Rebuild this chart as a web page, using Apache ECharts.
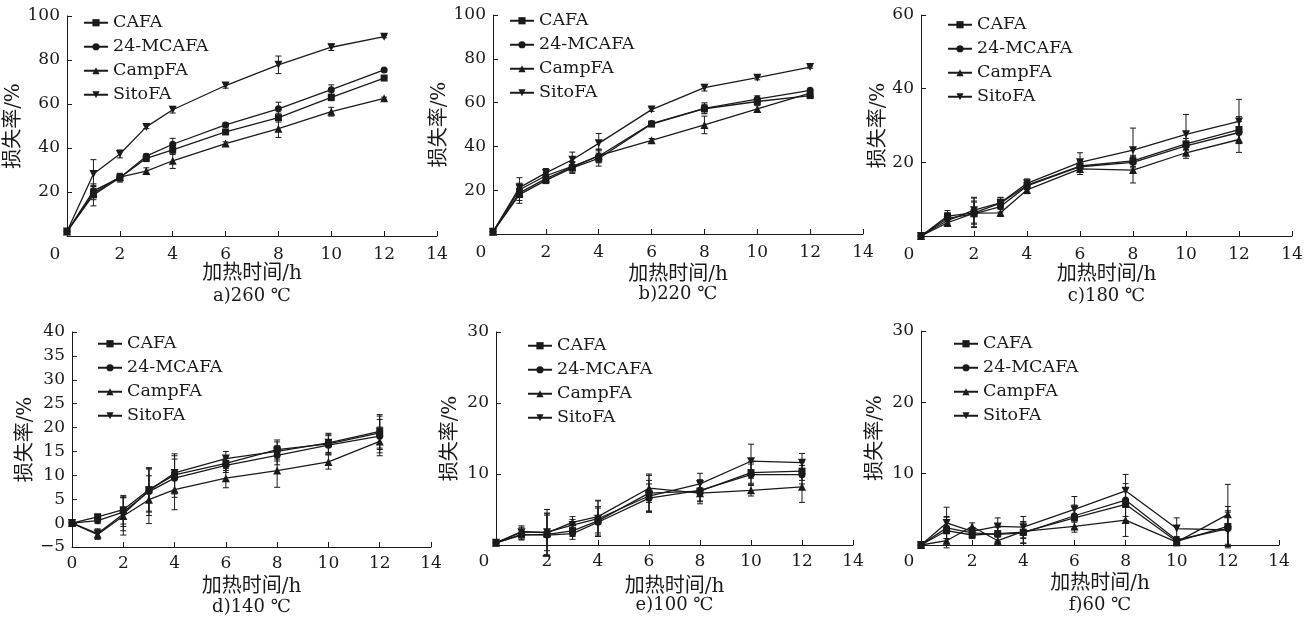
<!DOCTYPE html>
<html>
<head>
<meta charset="utf-8">
<title>损失率</title>
<script src="https://cdn.jsdelivr.net/npm/echarts@6/dist/echarts.min.js"></script>
<style>
  html, body { margin: 0; padding: 0; background: #fff; }
  #chart { width: 1306px; height: 625px; }
</style>
</head>
<body>
<div id="chart"></div>
<script>
// 加热时间 (h)
const hours = [0, 1, 2, 3, 4, 6, 8, 10, 12]
const seriesNames = ['CAFA', '24-MCAFA', 'CampFA', 'SitoFA']
const panelTitles = ['a)260 ℃', 'b)220 ℃', 'c)180 ℃', 'd)140 ℃', 'e)100 ℃', 'f)60 ℃']

// 纵轴范围
const yMin = [0, 0, 0, -5, 0, 0]
const yMax = [100, 100, 60, 40, 30, 30]
const yStep = [20, 20, 20, 5, 10, 10]

// 损失率 (%)，每行依次为 CAFA / 24-MCAFA / CampFA / SitoFA
const loss260 = [
  [2, 18.7, 26.5, 35.3, 39.1, 47.3, 53.8, 63.0, 71.8],
  [2, 20.5, 26.5, 36.3, 41.7, 50.5, 57.8, 66.5, 75.5],
  [2, 19.5, 26.8, 29.5, 34.2, 42.0, 48.8, 56.5, 62.6],
  [2, 28.2, 37.3, 49.6, 57.4, 68.4, 77.8, 85.8, 90.6]
]
const err260 = [
  [0.5, 5, 1.5, 1.5, 2, 1, 2, 1.5, 0.5],
  [0.5, 2.5, 2, 1, 2.7, 1, 3, 2.2, 0.5],
  [0.5, 3, 1.5, 1.5, 3.5, 0.8, 4, 2, 0.5],
  [0.5, 6.5, 1.8, 0.8, 1.5, 1.2, 4, 1.5, 0.5]
]
const loss220 = [
  [1, 18.0, 24.5, 30.2, 34.5, 50.2, 57.2, 60.5, 63.2],
  [1, 20.2, 26.6, 30.9, 35.5, 50.4, 57.4, 61.6, 65.6],
  [1, 18.8, 25.3, 30.5, 35.8, 42.8, 49.8, 57.1, 64.3],
  [1, 21.2, 27.9, 33.9, 41.4, 56.8, 66.8, 71.4, 76.2]
]
const err220 = [
  [0.3, 4, 1.5, 2.5, 3.5, 0.8, 2, 1.5, 0.5],
  [0.3, 3, 1.5, 2, 3, 0.8, 2.5, 1.5, 0.5],
  [0.3, 3.5, 1.5, 2.5, 3, 0.8, 4, 1.5, 0.5],
  [0.3, 4.5, 2, 3.5, 4.5, 0.8, 1.5, 1, 0.5]
]
const loss180 = [
  [0, 5.4, 6.3, 8.9, 13.8, 19.0, 20.4, 25.0, 28.9],
  [0, 4.8, 6.0, 8.0, 13.6, 18.8, 20.0, 24.5, 28.1],
  [0, 3.6, 6.2, 6.3, 12.5, 18.2, 17.9, 22.6, 26.2],
  [0, 4.2, 7.0, 9.0, 14.3, 20.0, 23.3, 27.6, 31.1]
]
const err180 = [
  [0.2, 1.5, 4, 1.5, 1.2, 1.5, 1.5, 1.5, 3.5],
  [0.2, 1.5, 3.5, 1.5, 1, 1.5, 1.5, 1.2, 3],
  [0.2, 1, 3, 1, 1, 1.5, 3.5, 1.5, 3.5],
  [0.2, 1.5, 3.5, 1.5, 1.2, 2.6, 6, 5.4, 6]
]
const loss140 = [
  [0, 1.3, 2.8, 7.0, 10.1, 12.5, 15.4, 16.6, 18.9],
  [0, 0.5, 2.3, 6.6, 9.4, 12.1, 14.2, 16.3, 18.2],
  [0, -2.4, 1.5, 4.9, 7.0, 9.4, 11.0, 12.8, 17.1],
  [0, -2.2, 1.9, 6.8, 10.5, 13.5, 15.0, 16.8, 19.2]
]
const err140 = [
  [0.3, 0.6, 3, 4.5, 4, 1.5, 2, 2, 3.5],
  [0.3, 0.6, 3, 5, 4, 1.5, 2, 2, 3.5],
  [0.3, 1, 4, 5, 4.2, 2, 3.5, 1.5, 3],
  [0.3, 1, 3.5, 4.5, 4, 1.5, 2, 2, 3.5]
]
const loss100 = [
  [0.3, 1.4, 1.5, 2.0, 3.4, 7.3, 7.6, 10.2, 10.4],
  [0.3, 1.5, 1.4, 1.6, 3.2, 6.6, 7.7, 9.9, 9.9],
  [0.3, 1.9, 1.7, 3.2, 4.0, 8.0, 7.3, 7.7, 8.2],
  [0.3, 1.8, 1.8, 2.8, 3.7, 6.9, 8.6, 11.8, 11.6]
]
const err100 = [
  [0.2, 0.7, 3, 0.8, 2, 2.5, 1.5, 1.5, 1.3],
  [0.2, 0.7, 3, 0.8, 2, 2, 1.5, 1.5, 1.3],
  [0.2, 0.8, 2.5, 0.8, 2.3, 2, 1.5, 0.8, 2.2],
  [0.2, 0.7, 3.2, 0.8, 2.5, 2.2, 1.5, 2.4, 1.3]
]
const loss60 = [
  [0, 2.0, 1.4, 1.6, 1.8, 3.8, 5.7, 0.5, 2.6],
  [0, 2.4, 1.7, 1.5, 1.7, 4.1, 6.3, 0.7, 2.3],
  [0, 0.6, 2.6, 0.6, 1.9, 2.6, 3.5, 0.4, 4.3],
  [0, 3.1, 1.9, 2.6, 2.5, 5.0, 7.6, 2.3, 2.1]
]
const err60 = [
  [0.2, 2, 0.5, 1.2, 1.5, 1.5, 2.3, 0.5, 2.8],
  [0.2, 1.5, 0.5, 1, 1.5, 1.5, 2.3, 0.5, 2.5],
  [0.2, 1, 0.5, 0.5, 1, 0.8, 2.3, 0.5, 4.2],
  [0.2, 2.2, 0.5, 1.2, 1.5, 1.8, 2.3, 1.5, 2.5]
]

const lossData = [loss260, loss220, loss180, loss140, loss100, loss60]
const errData = [err260, err220, err180, err140, err100, err60]

// 各子图的位置
const panels = [
  { left: 67, top: 16, width: 370, height: 220, yGap: 36, xGap: 27, lgLeft: 83, lgTop: 14 },
  { left: 493, top: 15, width: 370, height: 219, yGap: 27, xGap: 31, lgLeft: 509, lgTop: 12 },
  { left: 921, top: 15, width: 371, height: 221, yGap: 29, xGap: 29, lgLeft: 947, lgTop: 16 },
  { left: 72, top: 332, width: 359, height: 215, yGap: 36, xGap: 30, lgLeft: 97, lgTop: 335 },
  { left: 496, top: 332, width: 357, height: 213, yGap: 35, xGap: 32, lgLeft: 527, lgTop: 337 },
  { left: 921, top: 331, width: 358, height: 214, yGap: 35, xGap: 29, lgLeft: 953, lgTop: 335 }
]

const ink = '#1a1a1a'
const serif = "'DejaVu Serif', 'Noto Sans CJK SC', serif"
const symbols = ['rect', 'circle', 'triangle', 'path://M0,0L10,0L5,9Z']
const symbolSizes = [7, 7, 8, 8]

// 误差棒
const errorBars = (gi, vals, errs) => ({
  type: 'custom',
  xAxisIndex: gi,
  yAxisIndex: gi,
  silent: true,
  z: 1,
  data: hours.map((h, i) => [h, vals[i] - errs[i], vals[i] + errs[i]]),
  encode: { x: 0, y: [1, 2] },
  renderItem: (params, api) => {
    const lo = api.coord([api.value(0), api.value(1)])
    const hi = api.coord([api.value(0), api.value(2)])
    const w = 3
    const style = { stroke: ink, lineWidth: 1 }
    return {
      type: 'group',
      children: [
        { type: 'line', shape: { x1: lo[0], y1: lo[1], x2: hi[0], y2: hi[1] }, style },
        { type: 'line', shape: { x1: lo[0] - w, y1: lo[1], x2: lo[0] + w, y2: lo[1] }, style },
        { type: 'line', shape: { x1: hi[0] - w, y1: hi[1], x2: hi[0] + w, y2: hi[1] }, style }
      ]
    }
  }
})

const series = []
lossData.forEach((rows, gi) => {
  rows.forEach((vals, si) => {
    series.push(errorBars(gi, vals, errData[gi][si]))
    series.push({
      name: seriesNames[si],
      type: 'line',
      xAxisIndex: gi,
      yAxisIndex: gi,
      data: hours.map((h, i) => [h, vals[i]]),
      symbol: symbols[si],
      symbolSize: symbolSizes[si],
      showSymbol: true,
      z: 3,
      lineStyle: { color: ink, width: 1.3 },
      itemStyle: { color: ink },
      emphasis: { disabled: true }
    })
  })
})

const chart = echarts.init(document.getElementById('chart'))
chart.setOption({
  animation: false,
  backgroundColor: '#fff',
  title: panels.map((p, i) => ({
    text: panelTitles[i],
    left: p.left + p.width / 2,
    top: p.top + p.height + 51,
    textAlign: 'center',
    padding: 0,
    textStyle: { fontFamily: serif, fontSize: 18, fontWeight: 'normal', color: ink }
  })),
  legend: panels.map(p => ({
    orient: 'vertical',
    left: p.lgLeft,
    top: p.lgTop,
    padding: 0,
    data: seriesNames,
    itemWidth: 24,
    itemHeight: 9,
    itemGap: 6.5,
    selectedMode: false,
    textStyle: { fontFamily: serif, fontSize: 17.5, color: ink, lineHeight: 16 }
  })),
  grid: panels.map(p => ({
    left: p.left, top: p.top, width: p.width, height: p.height, containLabel: false
  })),
  xAxis: panels.map((p, i) => ({
    gridIndex: i,
    type: 'value',
    min: 0,
    max: 14,
    interval: 2,
    name: '加热时间/h',
    nameLocation: 'middle',
    nameGap: p.xGap,
    nameTextStyle: { fontFamily: serif, fontSize: 20, color: ink },
    axisLine: { show: true, onZero: false, lineStyle: { color: ink, width: 1 } },
    axisTick: { show: true, inside: true, length: 5, lineStyle: { color: ink } },
    axisLabel: {
      fontFamily: serif, fontSize: 17, color: ink, margin: i < 3 ? 10 : 8,
      showMinLabel: true, showMaxLabel: true,
      formatter: v => (v === 0 && yMin[i] === 0) ? '{o|0}' : String(v),
      rich: { o: { fontFamily: serif, fontSize: 17, color: ink, padding: [0, 24, 0, 0] } }
    },
    splitLine: { show: false }
  })),
  yAxis: panels.map((p, i) => ({
    gridIndex: i,
    type: 'value',
    min: yMin[i],
    max: yMax[i],
    interval: yStep[i],
    name: '损失率/%',
    nameLocation: 'middle',
    nameGap: p.yGap,
    nameTextStyle: { fontFamily: serif, fontSize: 20, color: ink },
    axisLine: { show: true, onZero: false, lineStyle: { color: ink, width: 1 } },
    axisTick: { show: true, inside: true, length: 5, lineStyle: { color: ink } },
    axisLabel: {
      fontFamily: serif, fontSize: 17, color: ink, margin: 7,
      showMinLabel: true, showMaxLabel: true,
      formatter: v => (v === 0 && yMin[i] === 0) ? '' : (v < 0 ? '−' + (-v) : String(v))
    },
    splitLine: { show: false }
  })),
  series
})
</script>
</body>
</html>
